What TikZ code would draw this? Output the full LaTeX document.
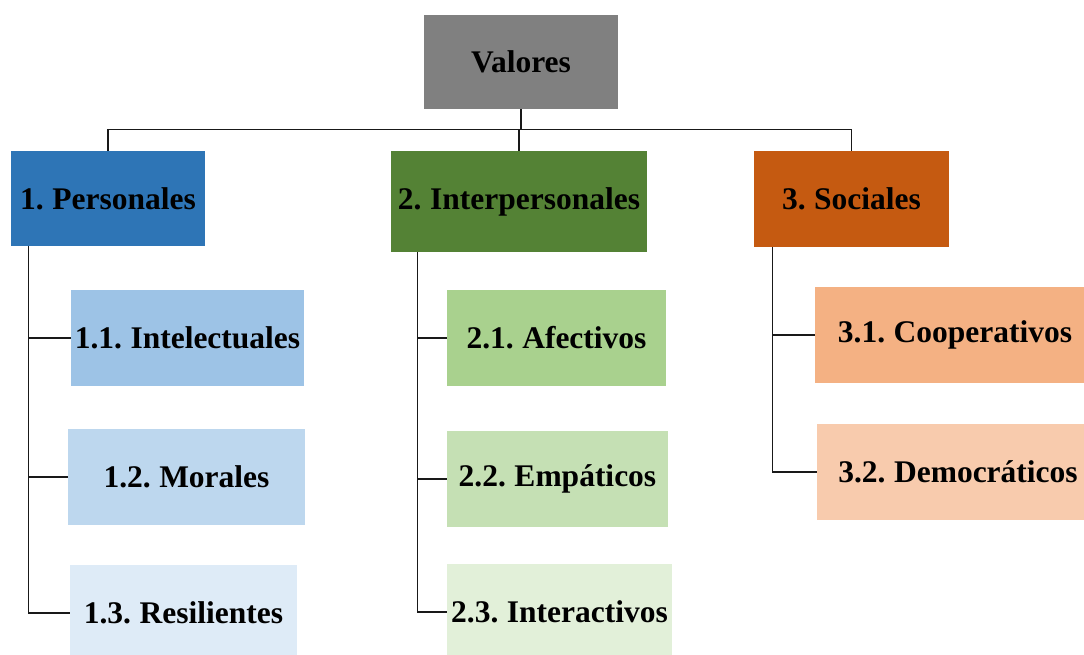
\documentclass[tikz,border=0pt]{standalone}
\usepackage{fontspec}
\setmainfont{Liberation Serif}[WordSpace=0.75]
\usepackage{xcolor}
\usepackage{tikz}

\definecolor{grisval}{HTML}{808080}
\definecolor{azul1}{HTML}{2E75B6}
\definecolor{azul2}{HTML}{9DC3E6}
\definecolor{azul3}{HTML}{BDD7EE}
\definecolor{azul4}{HTML}{DEEBF7}
\definecolor{verde1}{HTML}{548235}
\definecolor{verde2}{HTML}{A9D18E}
\definecolor{verde3}{HTML}{C5E0B4}
\definecolor{verde4}{HTML}{E2F0D9}
\definecolor{naranja1}{HTML}{C55A11}
\definecolor{naranja2}{HTML}{F4B183}
\definecolor{naranja3}{HTML}{F8CBAD}

\begin{document}
\begin{tikzpicture}[x=1pt,y=-1pt,
		caja/.style={rectangle, inner sep=0pt, minimum height=96pt, text=black,
			font=\fontsize{31.5}{36}\selectfont\bfseries},
		conn/.style={draw=black!90, line width=1.2pt}]
		\clip (0,0) rectangle (1084,655);

		% Raiz
		\node[caja, fill=grisval, minimum width=194pt, minimum height=94pt] (val) at (521,62) {Valores};

		% Primer nivel
		\node[caja, fill=azul1, minimum width=194pt, minimum height=95pt] (pers) at (108,198.5) {1. Personales};
		\node[caja, fill=verde1, minimum width=256pt, minimum height=101pt] (inter) at (519,201.5) {2. Interpersonales};
		\node[caja, fill=naranja1, minimum width=195pt] (soc) at (851.5,199) {3. Sociales};

		% Segundo nivel
		\node[caja, fill=azul2, minimum width=233pt] (i11) at (187.5,338) {1.1. Intelectuales};
		\node[caja, fill=azul3, minimum width=237pt] (i12) at (186.5,477) {1.2. Morales};
		\node[caja, fill=azul4, minimum width=227pt] (i13) at (183.5,613) {1.3. Resilientes};

		\node[caja, fill=verde2, minimum width=219pt] (i21) at (556.5,338) {2.1. Afectivos};
		\node[caja, fill=verde3, minimum width=221pt] (i22) at (557.5,479) {2.2. Empáticos};
		\node[caja, fill=verde4, minimum width=225pt] (i23) at (559.5,612) {2.3. Interactivos};

		\node[caja, fill=naranja2, minimum width=280pt] (i31) at (955,335) {3.1. Cooperativos};
		\node[caja, fill=naranja3, minimum width=282pt] (i32) at (958,472) {3.2. Democráticos};

		% Conectores
		\draw[conn] (val.south) -- ++(0,20) coordinate (bus);
		\foreach \c in {pers,inter,soc}
			\draw[conn] (bus) -| (\c.north);

		\coordinate (t1) at ([xshift=18pt]pers.south west);
		\coordinate (t2) at ([xshift=27pt]inter.south west);
		\coordinate (t3) at ([xshift=19pt]soc.south west);
		\foreach \c in {i11,i12,i13}
			\draw[conn] (t1) |- (\c.west);
		\foreach \c in {i21,i22,i23}
			\draw[conn] (t2) |- (\c.west);
		\foreach \c in {i31,i32}
			\draw[conn] (t3) |- (\c.west);
	\end{tikzpicture}
\end{document}
